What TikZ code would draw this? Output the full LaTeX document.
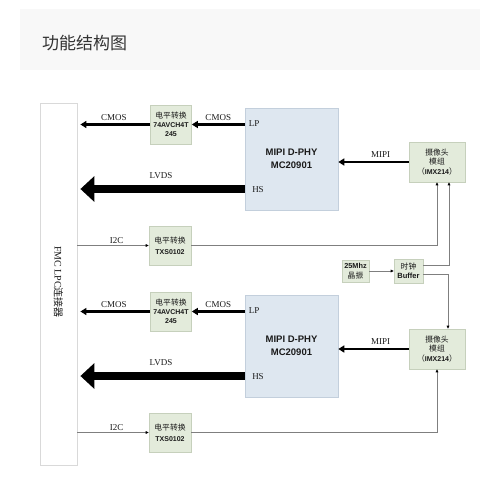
\documentclass[tikz,border=0pt]{standalone}
\usepackage{fontspec}
\setmainfont{Liberation Serif}
\newfontfamily\cjk{Noto Sans CJK SC}
\newfontfamily\bsans{Liberation Sans}
\usetikzlibrary{arrows.meta}
\newcommand\ckb[1]{{\cjk\mdseries\fontsize{7.8}{8.8}\selectfont #1}}
\definecolor{hdrbg}{HTML}{F8F8F8}
\definecolor{gfill}{HTML}{E3EBDB}
\definecolor{gdraw}{HTML}{C6D0BC}
\definecolor{bfill}{HTML}{DEE7F0}
\definecolor{bdraw}{HTML}{C3CFDC}
\definecolor{fdraw}{HTML}{D9D9D9}
\definecolor{wire}{HTML}{7F7F7F}
\definecolor{txt}{HTML}{1A1A1A}
\tikzset{
  gbox/.style={draw=gdraw, fill=gfill, line width=0.6pt, align=center, text=txt, inner sep=0pt,
    font=\bsans\bfseries\fontsize{7}{8.8}\selectfont},
  bbox/.style={draw=bdraw, fill=bfill, line width=0.6pt, align=center, text=txt, inner sep=0pt,
    minimum width=93pt, minimum height=102pt, font=\bsans\bfseries\fontsize{9.5}{13}\selectfont},
  fbox/.style={draw=fdraw, fill=white, line width=0.8pt, minimum width=37pt, minimum height=362pt, inner sep=0pt},
  thickarr/.style={line width=2.2pt, -{Triangle[length=6pt,width=7pt]}},
  lvdsarr/.style={line width=8pt, -{Triangle[length=14pt,width=25pt]}},
  thinarr/.style={line width=0.7pt, draw=wire, -{Triangle[length=3pt,width=2.6pt,color=black]}},
  lbl/.style={font=\fontsize{9}{10}\selectfont, text=txt, inner sep=1pt},
  pin/.style={font=\fontsize{9}{10}\selectfont, text=txt, inner sep=0pt}
}
\begin{document}
\begin{tikzpicture}[x=1pt,y=-1pt]
\useasboundingbox[fill=white] (0,0) rectangle (500,487);
% header
\fill[hdrbg] (20,9) rectangle (480,70);
\node[anchor=west, font=\cjk\fontsize{17}{20}\selectfont, text=black!80, inner sep=0pt] (title) at (42,43) {功能结构图};

% FMC connector
\node[fbox] (fmc) at (58.5,284) {};
\node[rotate=-90, font=\fontsize{10}{11}\selectfont, text=txt] (fmctxt) at (58.5,282) {FMC LPC{\cjk 连接器}};

% clock
\node[gbox, minimum width=27pt, minimum height=22pt, font=\bsans\bfseries\fontsize{7.3}{9.5}\selectfont] (osc) at (355.5,271) {25Mhz\\\ckb{晶振}};
\node[gbox, minimum width=29pt, minimum height=24pt, font=\bsans\bfseries\fontsize{7.5}{9.5}\selectfont] (buf) at (408.5,271) {\ckb{时钟}\\Buffer};
\draw[thinarr] (osc.east) -- (buf.west);

% two channels
\foreach \i/\dy in {1/0,2/187}{
  \node[gbox, minimum width=41pt, minimum height=39pt] (lsA\i) at (171,124.5+\dy) {\ckb{电平转换}\\74AVCH4T\\245};
  \node[gbox, minimum width=42pt, minimum height=39pt, font=\bsans\bfseries\fontsize{7}{11}\selectfont] (lsB\i) at (170,245.5+\dy) {\ckb{电平转换}\\TXS0102};
  \node[bbox] (mipi\i) at (291.5,159+\dy) {MIPI D-PHY\\MC20901};
  \node[gbox, minimum width=56pt, minimum height=40pt, font=\bsans\bfseries\fontsize{7}{9.2}\selectfont] (cam\i) at (437,162+\dy)
     {\ckb{摄像头}\\\ckb{模组}\\\ckb{（}IMX214\ckb{）}};
  \node[pin] (lp\i) at (254,124+\dy) {LP};
  \node[pin] (hs\i) at (258,190+\dy) {HS};
  \coordinate (hsy\i) at (0,189+\dy);
  % CMOS
  \draw[thickarr] (mipi\i.west |- lsA\i) -- node[lbl, above=1.5pt] (cmosR\i) {CMOS} (lsA\i.east);
  \draw[thickarr, shorten >=3pt] (lsA\i.west) -- node[lbl, above=1.5pt] (cmosL\i) {CMOS} (fmc.east |- lsA\i);
  % LVDS
  \draw[lvdsarr, shorten >=3pt] (mipi\i.west |- hsy\i) -- node[lbl, above=5pt] (lvds\i) {LVDS} (fmc.east |- hsy\i);
  % MIPI
  \draw[thickarr] (cam\i.west) -- node[lbl, above=2pt, pos=0.4] (mipil\i) {MIPI} (mipi\i.east |- cam\i);
  % I2C
  \draw[thinarr] (fmc.east |- lsB\i) -- node[lbl, above=1pt, pos=0.55] (i2c\i) {I2C} (lsB\i.west);
  \draw[thinarr] (lsB\i.east) -| (cam\i.south);
}
% clock buffer outputs
\coordinate (bufo1) at (423,265);
\coordinate (bufo2) at (423,274);
\coordinate (cam1in) at ([xshift=12pt]cam1.south);
\coordinate (cam2in) at ([xshift=11pt]cam2.north);
\draw[thinarr] (bufo1) -| (cam1in);
\draw[thinarr] (bufo2) -| (cam2in);
\end{tikzpicture}
\end{document}
